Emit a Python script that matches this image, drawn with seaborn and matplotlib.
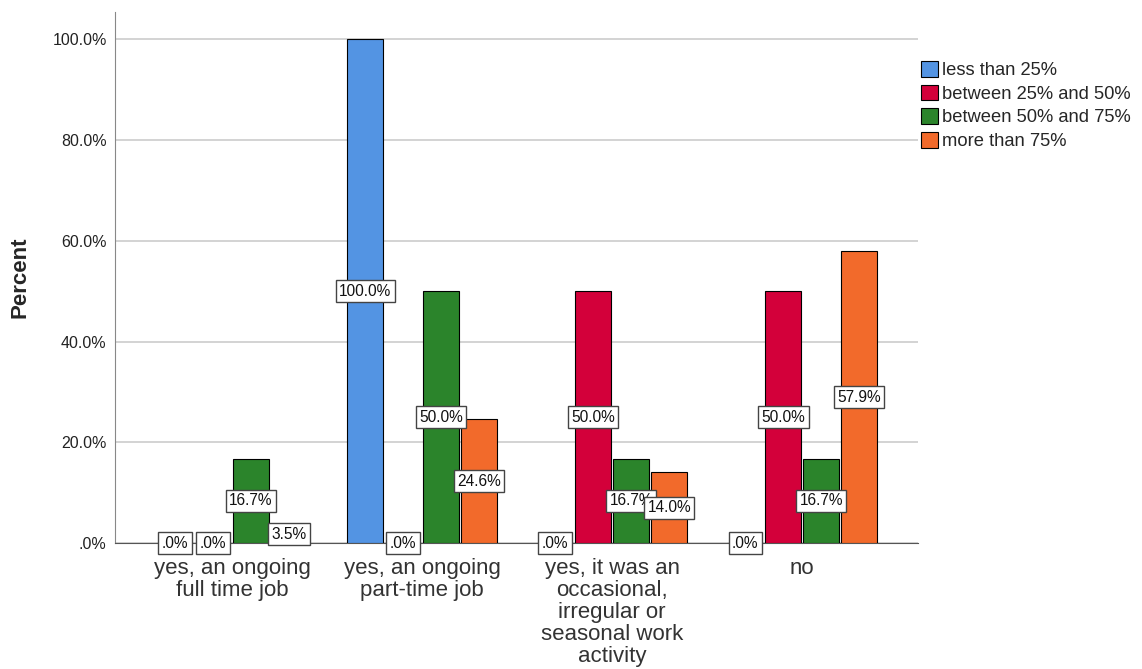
import seaborn as sns
import matplotlib.pyplot as plt
import pandas as pd

# values (percent)
categories = [
    "yes, an ongoing\nfull time job",
    "yes, an ongoing\npart-time job",
    "yes, it was an\noccasional,\nirregular or\nseasonal work\nactivity",
    "no",
]
groups = ["less than 25%", "between 25% and 50%", "between 50% and 75%", "more than 75%"]
less_25 = [0.0, 100.0, 0.0, 0.0]
between_25_50 = [0.0, 0.0, 50.0, 50.0]
between_50_75 = [16.7, 50.0, 16.7, 16.7]
more_75 = [3.5, 24.6, 14.0, 57.9]
colors = ["#5394E3", "#D3003A", "#2B842B", "#F26A2B"]

rows = []
for g, vals in zip(groups, [less_25, between_25_50, between_50_75, more_75]):
    for c, v in zip(categories, vals):
        rows.append({"category": c, "group": g, "percent": v})
df = pd.DataFrame(rows)

sns.set_style("white")
plt.rcParams["font.family"] = ["Liberation Sans", "DejaVu Sans"]
fig = plt.figure(figsize=(11.42, 6.69), dpi=100)
ax = fig.add_axes([0.1007, 0.1883, 0.7033, 0.7937])

sns.barplot(data=df, x="category", y="percent", hue="group", order=categories,
            hue_order=groups, palette=colors, saturation=1, width=0.8, gap=0.05,
            edgecolor="black", linewidth=0.8, ax=ax, zorder=3)

# boxed value labels at half height of each bar
for cont in ax.containers:
    for bar in cont:
        h = bar.get_height()
        txt = ".0%" if h == 0 else f"{h:.1f}%"
        ax.text(bar.get_x() + bar.get_width() / 2, h / 2, txt,
                ha="center", va="center", fontsize=11.2, color="#111111", zorder=5,
                bbox=dict(boxstyle="square,pad=0.22", fc="white", ec="#444444", lw=1.0))

ax.set_xlim(-0.616, 3.61)
ax.set_ylim(0, 105.4)
ax.set_yticks([0, 20, 40, 60, 80, 100])
ax.set_yticklabels([".0%", "20.0%", "40.0%", "60.0%", "80.0%", "100.0%"],
                   fontsize=11.5, color="#222222")
ax.tick_params(axis="y", length=0, pad=6)
ax.tick_params(axis="x", length=0, pad=11)
ax.set_xticks(range(len(categories)))
ax.set_xticklabels(categories, fontsize=16, color="#333333", linespacing=1.05)
ax.yaxis.grid(True, color="#cccccc", lw=1.2, zorder=0)
ax.set_axisbelow(True)

for s in ["top", "right"]:
    ax.spines[s].set_visible(False)
ax.spines["left"].set_color("#888888")
ax.spines["bottom"].set_color("#555555")

ax.set_xlabel("")
ax.set_ylabel("Percent", fontsize=16, fontweight="bold", labelpad=16)

handles, labels = ax.get_legend_handles_labels()
ax.legend_.remove()
fig.legend(handles, labels, loc="upper left", bbox_to_anchor=(0.8, 0.92),
           frameon=False, fontsize=13.2, handlelength=0.95, handleheight=0.95,
           handletextpad=0.2, labelspacing=0.3, borderaxespad=0)

plt.savefig("out.png", dpi=100)
